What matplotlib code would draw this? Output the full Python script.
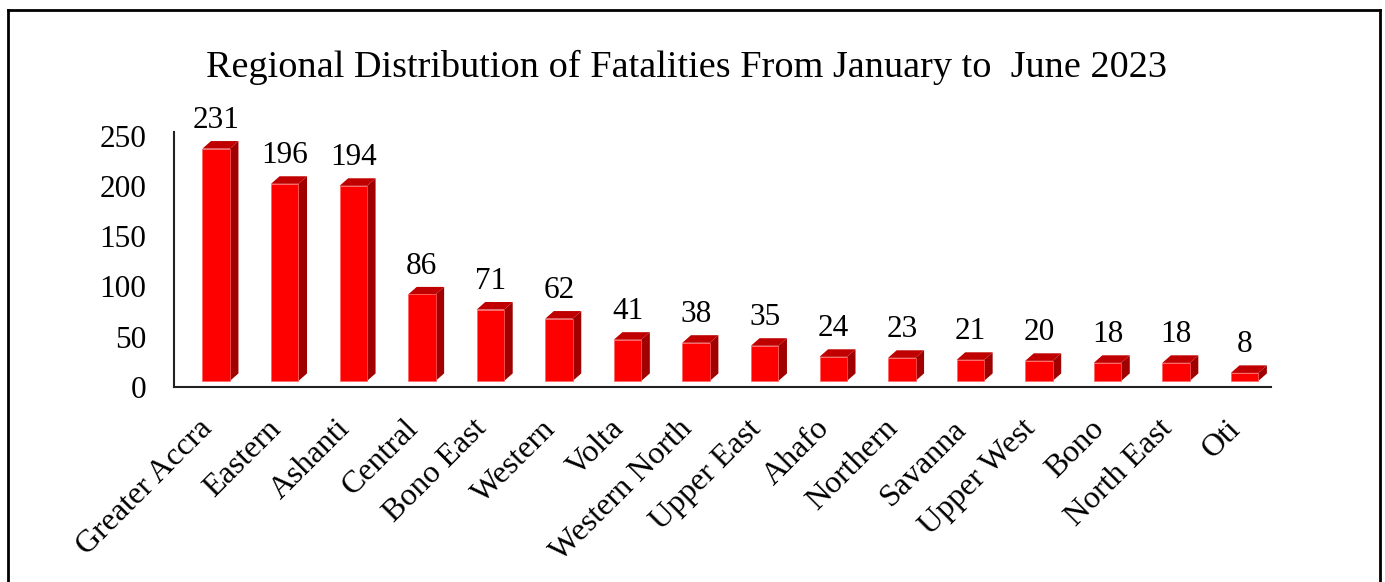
import matplotlib
matplotlib.use("Agg")
import matplotlib.pyplot as plt
from matplotlib.patches import Polygon
from matplotlib.lines import Line2D

regions = ["Greater Accra", "Eastern", "Ashanti", "Central", "Bono East", "Western",
           "Volta", "Western North", "Upper East", "Ahafo", "Northern", "Savanna",
           "Upper West", "Bono", "North East", "Oti"]
fatalities = [231, 196, 194, 86, 71, 62, 41, 38, 35, 24, 23, 21, 20, 18, 18, 8]
y_ticks = [0, 50, 100, 150, 200, 250]

plt.rcParams["font.family"] = ["Liberation Serif", "DejaVu Serif"]

FRONT = "#FF0000"
SIDE = "#A00000"
TOP = "#C00000"

fig = plt.figure(figsize=(13.85, 5.82), dpi=100)
ax = fig.add_axes([174 / 1385, 1 - 387 / 582, (1271 - 174) / 1385, (387 - 132) / 582])

ax.set_xlim(0, len(regions))
ax.set_ylim(0, 253.5)

base = 6.0      # bars sit slightly above the floor edge
off = -0.085    # front face left edge relative to category centre
width = 0.40
dx, dy = 0.125, 7.5  # pseudo-3D depth

for i, v in enumerate(fatalities):
    c = i + 0.5
    x0, x1 = c + off, c + off + width
    y0, y1 = base, base + v
    ax.add_patch(Polygon([(x1, y0), (x1 + dx, y0 + dy), (x1 + dx, y1 + dy), (x1, y1)],
                         closed=True, facecolor=SIDE, edgecolor="none"))
    ax.add_patch(Polygon([(x0, y1), (x1, y1), (x1 + dx, y1 + dy), (x0 + dx, y1 + dy)],
                         closed=True, facecolor=TOP, edgecolor="none"))
    ax.add_patch(Polygon([(x0, y0), (x1, y0), (x1, y1), (x0, y1)],
                         closed=True, facecolor=FRONT, edgecolor="#FF6060", linewidth=0.5))
    ax.text((x0 + x1) / 2, y1 + dy + 6, str(v), ha="center", va="bottom", fontsize=22.5)

ax.set_yticks(y_ticks)
ax.set_yticklabels([str(t) for t in y_ticks], fontsize=22.5)
ax.set_xticks([i + 0.5 for i in range(len(regions))])
ax.set_xticklabels(regions, fontsize=23, rotation=45, ha="right", va="center",
                   rotation_mode="anchor")
ax.tick_params(axis="y", length=0, pad=20)
ax.tick_params(axis="x", length=0, pad=27)

for s in ["top", "right"]:
    ax.spines[s].set_visible(False)
for s in ["left", "bottom"]:
    ax.spines[s].set_linewidth(1.5)
    ax.spines[s].set_color("#222222")

fig.text(0.5 * (205 + 1168) / 1385, 1 - 67 / 582,
         "Regional Distribution of Fatalities From January to  June 2023",
         ha="center", va="center", fontsize=27.5)

# outer frame (bottom edge cut off in the original)
L, R, T = 7.5 / 1385, 1380 / 1385, 1 - 10 / 582
for xs, ys in [([L, L], [0, T]), ([L, R], [T, T]), ([R, R], [T, 0])]:
    fig.add_artist(Line2D(xs, ys, transform=fig.transFigure, color="black", linewidth=2))

fig.savefig("out.png", dpi=100)
